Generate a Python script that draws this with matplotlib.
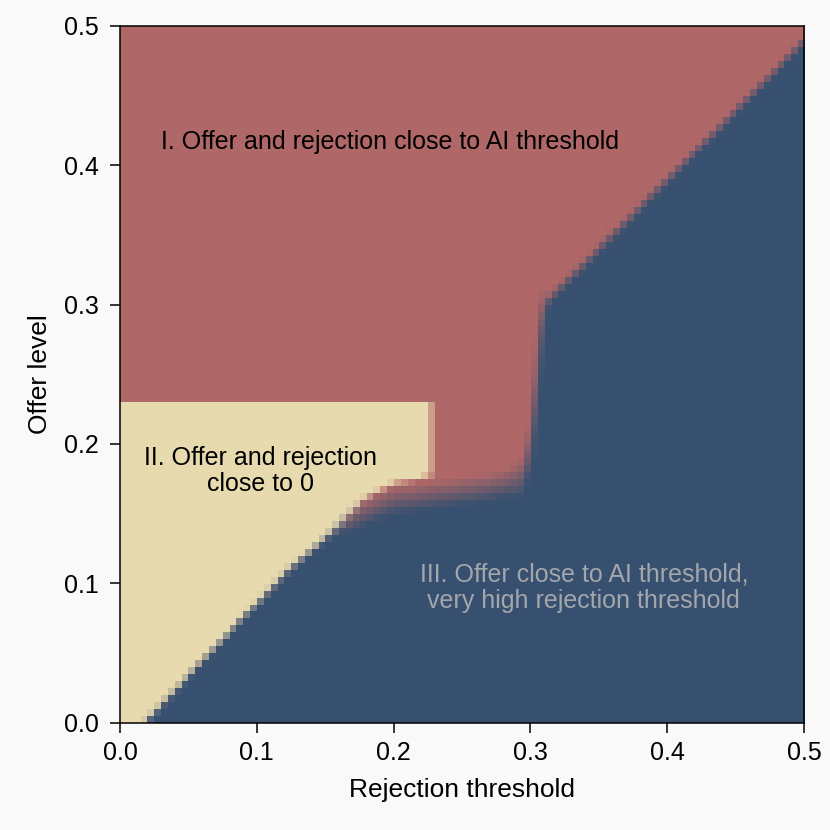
import matplotlib.pyplot as plt
import matplotlib.colors as mcolors
import numpy as np

# boundaries of the three regimes
# (x = rejection threshold, y = offer level)
blue_edge_x = [0.0, 0.06, 0.10, 0.122, 0.161, 0.18, 0.20, 0.24, 0.27, 0.293, 0.300, 0.304, 0.309, 0.40, 0.50]
blue_edge_y = [-0.019, 0.044, 0.086, 0.109, 0.142, 0.152, 0.160, 0.165, 0.169, 0.175, 0.20, 0.25, 0.300, 0.390, 0.490]
# width of the mixed (noisy) band along the blue edge
band_x = [0.0, 0.15, 0.17, 0.28, 0.296, 0.305, 0.312, 0.5]
band_w = [0.004, 0.004, 0.02, 0.02, 0.03, 0.06, 0.008, 0.005]
cream_edge_x = [0.0, 0.10, 0.122, 0.161, 0.178, 0.20, 0.227]
cream_edge_y = [-0.019, 0.086, 0.109, 0.142, 0.161, 0.172, 0.177]
cream_top = 0.230
cream_right = 0.227

n_cells = 100
sub = 4

region_colors = {'I': '#b06767', 'II': '#e8dab0', 'III': '#375170'}
labels = [
    ('I. Offer and rejection close to AI threshold', 0.197, 0.417, 'black'),
    ('II. Offer and rejection\nclose to 0', 0.103, 0.1805, 'black'),
    ('III. Offer close to AI threshold,\nvery high rejection threshold', 0.339, 0.0967, '#a3a6ab'),
]

plt.rcParams['font.family'] = ['Liberation Sans', 'DejaVu Sans']

# classify a fine grid and average down to the cell grid
m = n_cells * sub
c = (np.arange(m) + 0.5) / m * 0.5
X, Y = np.meshgrid(c, c)
yb = np.interp(X, blue_edge_x, blue_edge_y)
w = np.interp(X, band_x, band_w)
yc = np.interp(X, cream_edge_x, cream_edge_y)
f_blue = np.clip((yb - Y) / w + 0.5, 0, 1)
in_cream = (X < cream_right) & (Y < cream_top) & (Y >= yc)
f_cream = (1 - f_blue) * in_cream
f_red = 1 - f_blue - f_cream

rgb = (f_red[..., None] * np.array(mcolors.to_rgb(region_colors['I']))
       + f_cream[..., None] * np.array(mcolors.to_rgb(region_colors['II']))
       + f_blue[..., None] * np.array(mcolors.to_rgb(region_colors['III'])))
img = rgb.reshape(n_cells, sub, n_cells, sub, 3).mean(axis=(1, 3))

fig = plt.figure(figsize=(8.3, 8.3), dpi=100, facecolor='#f9f9f9')
ax = fig.add_axes([0.1446, 0.1295, 0.8241, 0.8392])
ax.imshow(img, origin='lower', extent=[0, 0.5, 0, 0.5], aspect='auto', interpolation='nearest')

for txt, x, y, col in labels:
    ax.text(x, y, txt, ha='center', va='center', fontsize=18, color=col, linespacing=1.15)

ax.set_xlim(0, 0.5)
ax.set_ylim(0, 0.5)
ticks = [0.0, 0.1, 0.2, 0.3, 0.4, 0.5]
ax.set_xticks(ticks)
ax.set_yticks(ticks)
ax.set_xticklabels([f'{t:.1f}' for t in ticks])
ax.set_yticklabels([f'{t:.1f}' for t in ticks])
ax.tick_params(labelsize=18, length=7, width=1.1)
ax.tick_params(axis='x', pad=6)
ax.tick_params(axis='y', pad=8)
for s in ax.spines.values():
    s.set_linewidth(1.1)
ax.set_xlabel('Rejection threshold', fontsize=19, labelpad=10)
ax.set_ylabel('Offer level', fontsize=19, labelpad=9)

fig.savefig('out.png', dpi=100, facecolor=fig.get_facecolor())
